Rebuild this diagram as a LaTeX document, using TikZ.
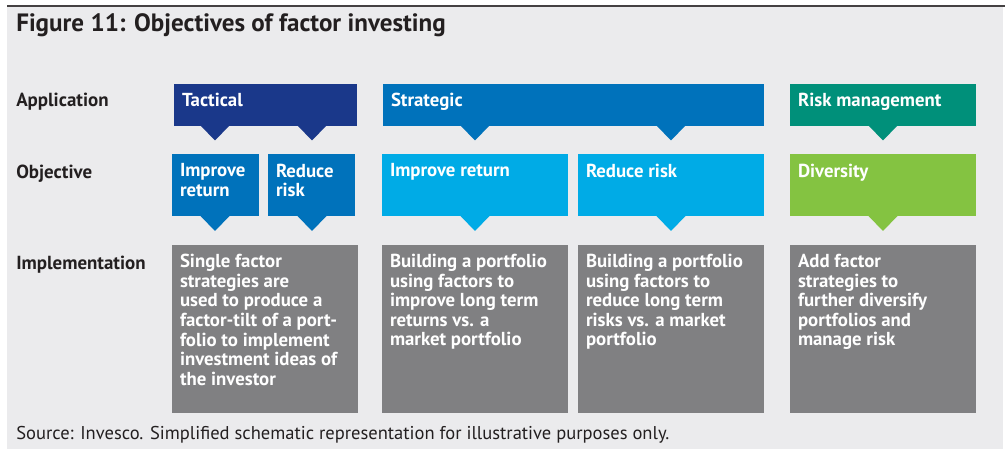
\documentclass[tikz,border=0pt]{standalone}
\usepackage{fontspec}
\setmainfont{PT Sans}
\usepackage{xcolor}
\usetikzlibrary{positioning,fit}

% Palette
\definecolor{ink}{RGB}{35,31,32}
\definecolor{panel}{RGB}{235,235,237}
\definecolor{navy}{RGB}{26,56,138}
\definecolor{midblue}{RGB}{0,114,187}
\definecolor{skyblue}{RGB}{0,171,230}
\definecolor{teal}{RGB}{0,144,122}
\definecolor{leaf}{RGB}{132,195,65}
\definecolor{slate}{RGB}{128,128,130}

\begin{document}
\begin{tikzpicture}[x=0.75pt, y=-0.75pt,
    box/.style={inner sep=0pt, draw=none},
    boxtext/.style={anchor=north west, align=left, inner xsep=6pt, inner ysep=6.9pt,
        text=white, font=\fontsize{14.1}{14.7}\selectfont\bfseries},
    rowlabel/.style={anchor=base west, inner sep=0pt, text=ink,
        font=\fontsize{14.2}{14.7}\selectfont\bfseries}]

        % Frame
        \useasboundingbox (0,0) rectangle (1008,449);
        \fill[panel] (7,6) rectangle (1003,449);
        \draw[ink!85, line width=1pt] (7,6) -- (1005,6);

        % Title
        \node[anchor=base west, inner sep=0pt, text=ink, font=\fontsize{18.8}{20}\selectfont\bfseries]
            (title) at (16,32) {Figure 11: Objectives of factor investing};

        % Row labels
        \node[rowlabel] (application) at (16,106.5) {Application};
        \node[rowlabel] (objective) at (16,178.5) {Objective};
        \node[rowlabel] (implementation) at (16,269.5) {Implementation};

        % Application boxes
        \node[box, fill=navy, fit={(174,84) (357,126)}] (tactical) {};
        \node[box, fill=midblue, fit={(383,84) (764,126)}] (strategic) {};
        \node[box, fill=teal, fit={(790,84) (976,126)}] (riskmgmt) {};
        \node[boxtext] (tacticalT) at (tactical.north west) {Tactical};
        \node[boxtext] (strategicT) at (strategic.north west) {Strategic};
        \node[boxtext] (riskmgmtT) at (riskmgmt.north west) {Risk management};

        % Objective boxes
        \node[box, fill=midblue, fit={(172,154.5) (259,216.5)}] (tacReturn) {};
        \node[box, fill=midblue, fit={(268,154.5) (355,216.5)}] (tacRisk) {};
        \node[box, fill=skyblue, fit={(382,154.5) (568,216.5)}] (strReturn) {};
        \node[box, fill=skyblue, fit={(578,154.5) (764,216.5)}] (strRisk) {};
        \node[box, fill=leaf, fit={(790,154.5) (976,216.5)}] (diversity) {};
        \node[boxtext] (tacReturnT) at (tacReturn.north west) {Improve\\return};
        \node[boxtext] (tacRiskT) at (tacRisk.north west) {Reduce\\risk};
        \node[boxtext] (strReturnT) at (strReturn.north west) {Improve return};
        \node[boxtext] (strRiskT) at (strRisk.north west) {Reduce risk};
        \node[boxtext] (diversityT) at (diversity.north west) {Diversity};

        % Implementation boxes
        \node[box, fill=slate, fit={(172,245) (358,413)}] (implTac) {};
        \node[box, fill=slate, fit={(382,245) (568,413)}] (implReturn) {};
        \node[box, fill=slate, fit={(578,245) (764,413)}] (implRisk) {};
        \node[box, fill=slate, fit={(790,245) (976,413)}] (implDiv) {};
        \node[boxtext] (implTacT) at (implTac.north west)
            {Single factor\\strategies are\\used to produce a\\factor-tilt of a port-\\folio to implement\\investment ideas of\\the investor};
        \node[boxtext] (implReturnT) at (implReturn.north west)
            {Building a portfolio\\using factors to\\improve long term\\returns vs. a\\market portfolio};
        \node[boxtext] (implRiskT) at (implRisk.north west)
            {Building a portfolio\\using factors to\\reduce long term\\risks vs. a market\\portfolio};
        \node[boxtext] (implDivT) at (implDiv.north west)
            {Add factor\\strategies to\\further diversify\\portfolios and\\manage risk};

        % Pointers under the boxes
        \foreach \x/\c in {215/navy, 312/navy, 475/midblue, 671/midblue, 883/teal}
            \fill[\c] (\x-14.5,125.5) -- ++(29,0) -- ++(-14.5,15) -- cycle;
        \foreach \x/\c in {215/midblue, 312/midblue, 475/skyblue, 671/skyblue, 883/leaf}
            \fill[\c] (\x-14.5,216) -- ++(29,0) -- ++(-14.5,15) -- cycle;

        % Source line
        \node[anchor=base west, inner sep=0pt, text=ink, font=\fontsize{13.9}{15}\selectfont]
            (source) at (16,439) {Source: Invesco. Simplified schematic representation for illustrative purposes only.};
\end{tikzpicture}
\end{document}
